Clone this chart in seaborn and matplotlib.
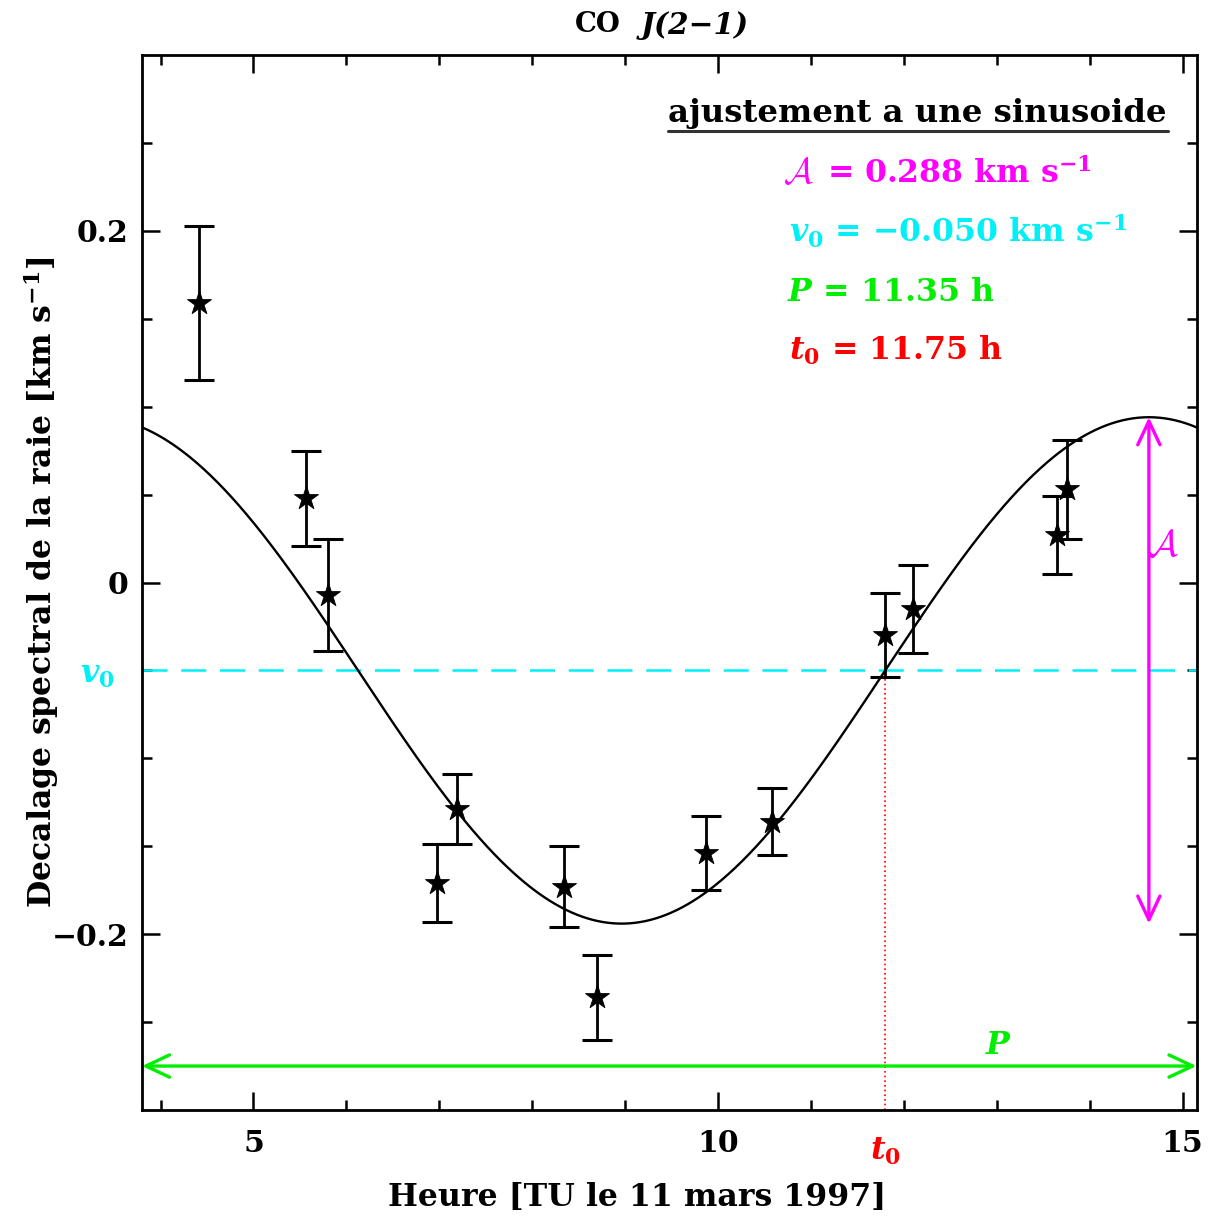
import numpy as np
import pandas as pd
import matplotlib
matplotlib.use("Agg")
import matplotlib.pyplot as plt
import seaborn as sns
from matplotlib.lines import Line2D

# ---------------- data ----------------
heure = [4.41, 5.57, 5.80, 6.97, 7.19, 8.34, 8.70, 9.87, 10.58, 11.80, 12.10, 13.65, 13.76]
decalage = [0.159, 0.048, -0.007, -0.171, -0.129, -0.173, -0.236, -0.154, -0.136,
            -0.030, -0.015, 0.027, 0.053]
erreur = [0.044, 0.027, 0.032, 0.022, 0.020, 0.023, 0.024, 0.021, 0.019,
          0.024, 0.025, 0.022, 0.028]

# fitted sinusoid parameters (as shown in the figure)
amplitude = 0.288      # peak-to-peak, km/s
v0 = -0.050            # km/s
periode = 11.35        # h
t0 = 11.80             # h (position of the t0 marker on the time axis)
t0_label = "11.75"

xlim = [3.80, 15.15]
ylim = [-0.30, 0.30]
xticks_major = [5, 10, 15]
yticks_major = [-0.2, 0.0, 0.2]
ytick_labels = ["\u22120.2", "0", "0.2"]

title_left = "CO"
title_right = "J(2\u22121)"
xlabel = "Heure [TU le 11 mars 1997]"
ylabel = r"Decalage spectral de la raie [km s$^{\mathbf{-1}}$]"
header = "ajustement a une sinusoide"

# ---------------- style ----------------
sns.set_theme(style="ticks")
plt.rcParams["font.family"] = ["DejaVu Serif"]
plt.rcParams["font.weight"] = "bold"
plt.rcParams["mathtext.fontset"] = "dejavuserif"
plt.rcParams["axes.unicode_minus"] = True
plt.rcParams["text.color"] = "black"
plt.rcParams["xtick.color"] = "black"
plt.rcParams["ytick.color"] = "black"

W, H = 1220, 1217
fig = plt.figure(figsize=(W / 100, H / 100), dpi=100)
fig.patch.set_facecolor("white")

def fx(px):
    return px / W

def fy(py):
    return 1 - py / H

ax = fig.add_axes([fx(142), fy(1110), fx(1196.5) - fx(142), fy(55) - fy(1110)])
ax.set_facecolor("white")

MAG = "#ff00ff"
CYA = "#00f0f8"
GRN = "#00ee00"
RED = "#ff0000"
FS = 22.8
FS_TICK = 21.5

# fitted curve
tt = np.linspace(xlim[0], xlim[1], 600)
vv = v0 + amplitude / 2 * np.sin(2 * np.pi * (tt - t0) / periode)
curve = pd.DataFrame({"t": tt, "v": vv})
sns.lineplot(data=curve, x="t", y="v", ax=ax, color="black", lw=1.7, zorder=3)

# error bars + stars
ax.errorbar(heure, decalage, yerr=erreur, fmt="none", ecolor="black",
            elinewidth=2.0, capsize=11, capthick=2.2, zorder=4)
pts = pd.DataFrame({"t": heure, "v": decalage})
sns.scatterplot(data=pts, x="t", y="v", ax=ax, marker="*", s=330,
                color="black", edgecolor="black", linewidth=0.6, zorder=5)

# v0 dashed line
ax.axhline(v0, color=CYA, lw=1.8, dashes=(10, 5.5), zorder=2)
# t0 dotted line
ax.plot([t0, t0], [ylim[0], v0], color=RED, lw=1.2, ls=(0, (1, 1.8)), zorder=2)

# period arrow
y_arrow = -0.275
ax.annotate("", xy=(xlim[0] + periode, y_arrow), xytext=(xlim[0], y_arrow),
            arrowprops=dict(arrowstyle="<->,head_length=0.85,head_width=0.4",
                            color=GRN, lw=2.4, shrinkA=0, shrinkB=0,
                            mutation_scale=20), annotation_clip=False, zorder=6)
ax.text(13.02, -0.268, r"$\mathbfit{P}$", color=GRN, fontsize=FS, ha="center", va="baseline")

# amplitude arrow
t_peak = t0 + periode / 4
ax.annotate("", xy=(t_peak, v0 + amplitude / 2), xytext=(t_peak, v0 - amplitude / 2),
            arrowprops=dict(arrowstyle="<->,head_length=0.85,head_width=0.4",
                            color=MAG, lw=2.4, shrinkA=0, shrinkB=0,
                            mutation_scale=20), zorder=6)
ax.text(t_peak - 0.02, 0.021, r"$\mathcal{A}$", color=MAG, fontsize=FS + 4,
        fontweight="normal", ha="left", va="center", math_fontfamily="cm")

# axes cosmetics
ax.set_xlim(xlim)
ax.set_ylim(ylim)
ax.set_xticks(xticks_major)
ax.set_xticklabels([str(v) for v in xticks_major])
ax.set_xticks([v for v in range(4, 16) if v not in xticks_major], minor=True)
ax.set_yticks(yticks_major)
ax.set_yticklabels(ytick_labels)
ax.set_yticks([round(v, 2) for v in np.arange(-0.25, 0.30, 0.05)
               if min(abs(v - m) for m in yticks_major) > 1e-6], minor=True)
ax.tick_params(which="both", direction="in", top=True, right=True,
               labelsize=FS_TICK, color="black", width=1.8)
ax.tick_params(which="major", length=13)
ax.tick_params(which="minor", length=7)
ax.tick_params(axis="x", which="major", pad=14)
ax.tick_params(axis="y", which="major", pad=10)
for s in ax.spines.values():
    s.set_linewidth(2.0)
    s.set_color("black")
ax.set_xlabel("")
ax.set_ylabel("")

# t0 and v0 markers on axes
ax.text(t0, -0.3235, r"$\mathbfit{t}_\mathbf{0}$", color=RED, fontsize=FS, ha="center", va="center")
fig.text(fx(97), fy(675), r"$\mathbfit{v}_\mathbf{0}$", color=CYA, fontsize=FS, ha="center", va="center")

# labels and title
fig.text(fx(637), fy(1197), xlabel, fontsize=FS, ha="center", va="center")
fig.text(fx(42), fy(582), ylabel, fontsize=FS, ha="center", va="center", rotation=90)
fig.text(fx(621), fy(25), title_left, fontsize=FS - 3, ha="right", va="center")
fig.text(fx(641), fy(25), title_right, fontsize=FS - 1.5, ha="left", va="center", style="italic")

# fit summary
fig.text(fx(668), fy(122), header, fontsize=FS + 0.5, ha="left", va="baseline")
fig.add_artist(Line2D([fx(668), fx(1168)], [fy(131), fy(131)], color="#333333", lw=2.2))
fig.text(fx(783), fy(183), r"$\mathcal{A}$", color=MAG, fontsize=FS + 3,
         fontweight="normal", ha="left", va="baseline", math_fontfamily="cm")
fig.text(fx(827), fy(183), r"= 0.288 km s$^{\mathbf{-1}}$", color=MAG,
         fontsize=FS, ha="left", va="baseline")
fig.text(fx(789), fy(243), r"$\mathbfit{v}_\mathbf{0}$ = " "\u2212" r"0.050 km s$^{\mathbf{-1}}$",
         color=CYA, fontsize=FS, ha="left", va="baseline")
fig.text(fx(787), fy(301), r"$\mathbfit{P}$ = 11.35 h", color=GRN, fontsize=FS,
         ha="left", va="baseline")
fig.text(fx(789), fy(360), r"$\mathbfit{t}_\mathbf{0}$ = " + t0_label + " h", color=RED,
         fontsize=FS, ha="left", va="baseline")

fig.savefig("out.png", dpi=100, facecolor="white")
